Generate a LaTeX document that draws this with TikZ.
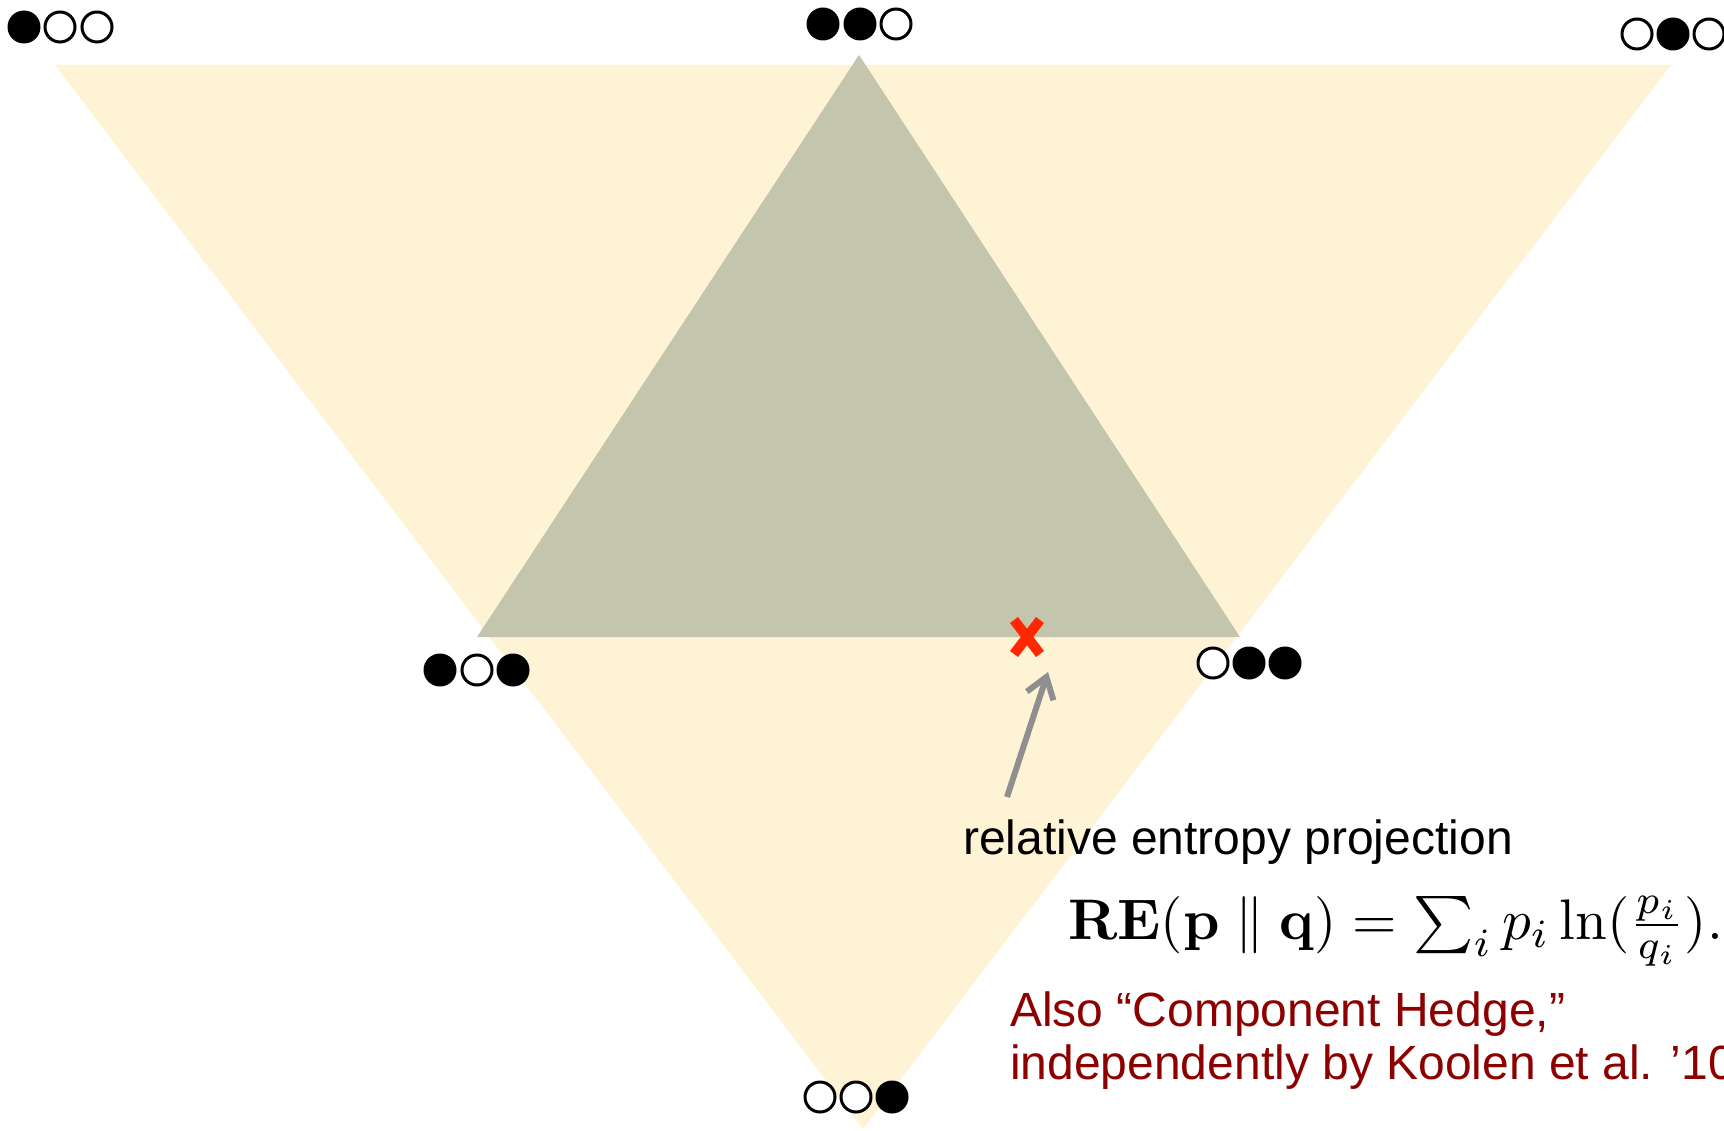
\documentclass[tikz,border=0pt]{standalone}
\usepackage[no-math]{fontspec}
\setmainfont{Liberation Sans}
\usepackage{amsmath}
\usetikzlibrary{arrows.meta}
\definecolor{paleyellow}{RGB}{255,243,214}
\definecolor{greytri}{RGB}{196,197,173}
\definecolor{projred}{RGB}{255,40,0}
\definecolor{arrowgrey}{RGB}{143,143,143}
\definecolor{darkred}{RGB}{140,0,0}
\tikzset{
  fullc/.style={circle, fill=black, minimum size=33pt, inner sep=0pt},
  openc/.style={circle, draw=black, line width=3pt, fill=white, minimum size=30pt, inner sep=0pt},
  lbl/.style={anchor=base west, inner sep=0pt, font=\fontsize{48}{54}\selectfont},
  redx/.style={draw=projred, line width=10pt},
  projarrow/.style={draw=arrowgrey, line width=6pt, -{Straight Barb[length=20pt,width=28pt]}},
}
\begin{document}
\begin{tikzpicture}[x=1pt,y=-1pt]
\useasboundingbox (0,0) rectangle (1724,1131);
\clip (0,0) rectangle (1724,1131);
% big triangle
\coordinate (Y1) at (55,65);
\coordinate (Y2) at (1671,65);
\coordinate (Y3) at (863,1129);
\fill[paleyellow] (Y1) -- (Y2) -- (Y3) -- cycle;
% inner triangle
\coordinate (G1) at (859,55);
\coordinate (G2) at (477,637);
\coordinate (G3) at (1240,637);
\fill[greytri] (G1) -- (G2) -- (G3) -- cycle;
% vertex labels
\node[fullc] (a1) at (24,27) {};
\node[openc] (a2) at (60,27) {};
\node[openc] (a3) at (97,27) {};
\node[fullc] (b1) at (823,24) {};
\node[fullc] (b2) at (860,24) {};
\node[openc] (b3) at (896,24) {};
\node[openc] (c1) at (1637,34) {};
\node[fullc] (c2) at (1673,34) {};
\node[openc] (c3) at (1709,34) {};
\node[fullc] (d1) at (440,670) {};
\node[openc] (d2) at (477,670) {};
\node[fullc] (d3) at (513,670) {};
\node[openc] (e1) at (1213,663) {};
\node[fullc] (e2) at (1249,663) {};
\node[fullc] (e3) at (1285,663) {};
\node[openc] (f1) at (820,1097) {};
\node[openc] (f2) at (856,1097) {};
\node[fullc] (f3) at (892,1097) {};
% projection point
\coordinate (proj) at (1027,637);
\draw[redx] (proj) ++(-13,-17) -- ++(26,34);
\draw[redx] (proj) ++(13,-17) -- ++(-26,34);
% arrow
\coordinate (arrtail) at (1007,797);
\coordinate (arrtip) at (1048,672);
\draw[projarrow] (arrtail) -- (arrtip);
% texts
\node[lbl] (label) at (963,854) {relative entropy projection};
\node[anchor=base west, inner sep=0pt] (formula) at (1068,939)
  {\scalebox{5.72}{$\mathbf{RE}(\mathbf{p}\parallel\mathbf{q})=\sum_i p_i\ln(\frac{p_i}{q_i}).$}};
\node[lbl, text=darkred] (note1) at (1010,1026) {Also “Component Hedge,”};
\node[lbl, text=darkred] (note2) at (1010,1079) {independently by Koolen et al. ’10};
\end{tikzpicture}
\end{document}
